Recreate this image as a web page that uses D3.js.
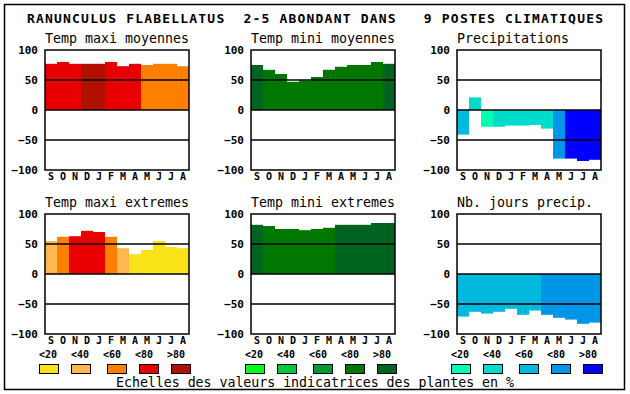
<!DOCTYPE html>
<html>
<head>
<meta charset="utf-8">
<script src="https://cdn.jsdelivr.net/npm/d3@7"></script>
<style>
  body { margin: 0; background: #fff; }
  text { font-family: "DejaVu Sans Mono", monospace; fill: #000; }
  .title { font-size: 13px; font-weight: bold; white-space: pre; }
  .subtitle { font-size: 13.3px; }
  .y-axis text { font-size: 11px; font-weight: bold; }
  .x-axis text, .legend-label { font-size: 10px; font-weight: bold; }
</style>
</head>
<body>
<div id="chart"></div>
<script>
// months, september to august
const months = ['S', 'O', 'N', 'D', 'J', 'F', 'M', 'A', 'M', 'J', 'J', 'A']
const yTicks = [-100, -50, 0, 50, 100]
const gridValues = [-50, 0, 50]

const classLabels = ['<20', '<40', '<60', '<80', '>80']
const redScale = ['#fae318', '#ffb850', '#ff8000', '#e80000', '#b01000']
const greenScale = ['#00ff1e', '#00c83c', '#009c32', '#007800', '#006420']
const blueScale = ['#00ffb4', '#00dccc', '#00b9dc', '#0096e8', '#0000ff']

const titles = ['Temp maxi moyennes', 'Temp mini moyennes', 'Precipitations',
  'Temp maxi extremes', 'Temp mini extremes', 'Nb. jours precip.']

// values, in %
const tmaxMoy = [77, 80, 77, 77, 77, 80, 73, 77, 75, 77, 77, 73]
const tminMoy = [75, 67, 60, 47, 49, 55, 67, 72, 75, 75, 80, 77]
const precip = [-41, 21, -28, -28, -26, -26, -25, -31, -81, -81, -85, -83]
const tmaxExt = [55, 62, 63, 72, 70, 62, 43, 33, 40, 55, 45, 43]
const tminExt = [82, 80, 75, 75, 73, 75, 77, 82, 82, 82, 85, 85]
const nbJours = [-71, -63, -66, -63, -58, -68, -61, -68, -73, -76, -83, -81]

// colour class of each bar (index in the scale)
const tmaxMoyClass = [3, 3, 3, 4, 4, 3, 3, 3, 2, 2, 2, 2]
const tminMoyClass = [4, 3, 3, 3, 3, 3, 3, 3, 3, 3, 3, 4]
const precipClass = [2, 1, 0, 1, 1, 1, 1, 1, 3, 4, 4, 4]
const tmaxExtClass = [1, 2, 3, 3, 3, 2, 1, 0, 0, 0, 0, 0]
const tminExtClass = [4, 3, 3, 3, 3, 3, 3, 4, 4, 4, 4, 4]
const nbJoursClass = [2, 2, 2, 2, 2, 2, 2, 3, 3, 3, 3, 3]

const panels = [
  { title: titles[0], values: tmaxMoy, cls: tmaxMoyClass, colors: redScale, col: 0, row: 0, center: true },
  { title: titles[1], values: tminMoy, cls: tminMoyClass, colors: greenScale, col: 1, row: 0, center: true },
  { title: titles[2], values: precip, cls: precipClass, colors: blueScale, col: 2, row: 0 },
  { title: titles[3], values: tmaxExt, cls: tmaxExtClass, colors: redScale, col: 0, row: 1 },
  { title: titles[4], values: tminExt, cls: tminExtClass, colors: greenScale, col: 1, row: 1, center: true },
  { title: titles[5], values: nbJours, cls: nbJoursClass, colors: blueScale, col: 2, row: 1 }
]

const width = 630, height = 394
const plotW = 144, plotH = 120
const colX = [45, 251, 457]
const rowY = [50, 214]

const svg = d3.select('#chart').append('svg')
  .attr('width', width)
  .attr('height', height)

svg.append('rect')
  .attr('x', 4.5).attr('y', 4.5)
  .attr('width', 620).attr('height', 385)
  .attr('fill', '#fff')
  .attr('stroke', '#000')
  .attr('stroke-width', 1.5)

svg.append('text')
  .attr('class', 'title')
  .attr('x', 27)
  .attr('y', 22.5)
  .attr('xml:space', 'preserve')
  .attr('textLength', 576)
  .attr('lengthAdjust', 'spacing')
  .text('RANUNCULUS FLABELLATUS  2-5 ABONDANT DANS   9 POSTES CLIMATIQUES')

const x = d3.scaleBand().domain(d3.range(12)).range([0, plotW]).padding(0)
const y = d3.scaleLinear().domain([-100, 100]).range([plotH, 0])

panels.forEach(p => {
  const g = svg.append('g')
    .attr('transform', `translate(${colX[p.col]},${rowY[p.row]})`)

  g.append('text')
    .attr('class', 'subtitle')
    .attr('x', p.center ? plotW / 2 : 0)
    .attr('y', -7)
    .attr('text-anchor', p.center ? 'middle' : 'start')
    .text(p.title)

  g.selectAll('rect.bar')
    .data(p.values)
    .join('rect')
    .attr('class', 'bar')
    .attr('x', (d, i) => x(i))
    .attr('width', x.bandwidth())
    .attr('y', d => y(Math.max(0, d)))
    .attr('height', d => Math.abs(y(d) - y(0)))
    .attr('fill', (d, i) => p.colors[p.cls[i]])

  g.selectAll('line.grid')
    .data(gridValues)
    .join('line')
    .attr('class', 'grid')
    .attr('x1', 0).attr('x2', plotW)
    .attr('y1', d => y(d)).attr('y2', d => y(d))
    .attr('stroke', '#000')
    .attr('stroke-width', 1.5)

  g.append('rect')
    .attr('width', plotW).attr('height', plotH)
    .attr('fill', 'none')
    .attr('stroke', '#000')
    .attr('stroke-width', 1.5)

  const yAxis = g.append('g')
    .attr('class', 'y-axis')
    .call(d3.axisLeft(y).tickValues(yTicks).tickSize(0).tickPadding(7))
  yAxis.select('.domain').remove()

  const xAxis = g.append('g')
    .attr('class', 'x-axis')
    .attr('transform', `translate(0,${plotH})`)
    .call(d3.axisBottom(x).tickSize(0).tickPadding(4).tickFormat(i => months[i]))
  xAxis.select('.domain').remove()
  xAxis.selectAll('text').attr('dy', '0.62em')
})

// colour scale legends under the bottom row
const boxOffsets = [0, 32, 68, 100, 132]
const legendScales = [redScale, greenScale, blueScale]

legendScales.forEach((scale, k) => {
  const g = svg.append('g')
    .attr('transform', `translate(${colX[k] - 6},0)`)

  g.selectAll('text.legend-label')
    .data(classLabels)
    .join('text')
    .attr('class', 'legend-label')
    .attr('x', (d, i) => i * 32)
    .attr('y', 357.5)
    .text(d => d)

  g.selectAll('rect.legend-box')
    .data(scale)
    .join('rect')
    .attr('class', 'legend-box')
    .attr('x', (d, i) => boxOffsets[i] + 0.5)
    .attr('y', 364.5)
    .attr('width', 19)
    .attr('height', 9)
    .attr('fill', d => d)
    .attr('stroke', '#000')
    .attr('stroke-width', 1)
})

svg.append('text')
  .attr('class', 'subtitle')
  .attr('x', 116)
  .attr('y', 386.5)
  .attr('textLength', 398)
  .attr('lengthAdjust', 'spacing')
  .text('Echelles des valeurs indicatrices des plantes en %')
</script>
</body>
</html>
